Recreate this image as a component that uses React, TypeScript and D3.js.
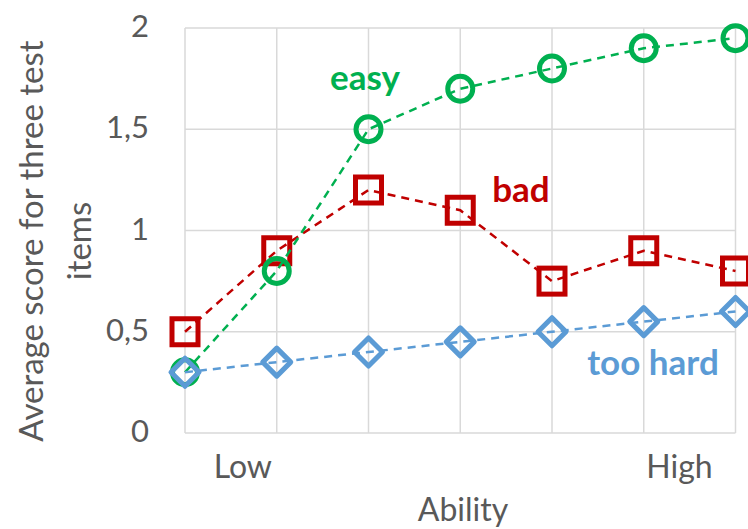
import React from "react";
import * as d3 from "d3";

const categories = [1, 2, 3, 4, 5, 6, 7];
const easyValues = [0.3, 0.8, 1.5, 1.7, 1.8, 1.9, 1.95];
const badValues = [0.5, 0.9, 1.2, 1.1, 0.75, 0.9, 0.8];
const tooHardValues = [0.3, 0.35, 0.4, 0.45, 0.5, 0.55, 0.6];
const yTicks = [0, 0.5, 1, 1.5, 2];
const xTickLabels = [
  { label: "Low", at: 0.63 },
  { label: "High", at: 5.39 },
];

const W = 748;
const H = 529;
const FONT = "Lato, 'Open Sans', sans-serif";
const GREEN = "#00B050";
const RED = "#C00000";
const BLUE = "#5B9BD5";
const TEXT = "#595959";

export default function App() {
  const x = d3.scaleLinear().domain([0, categories.length - 1]).range([185, 735.5]);
  const y = d3.scaleLinear().domain([0, 2]).range([433, 28]);
  const line = d3
    .line<number>()
    .x((_, i) => x(i))
    .y((d) => y(d));

  const fmt = (v: number) => String(v).replace(".", ",");

  const series = [
    { name: "bad", values: badValues, color: RED, shape: "square" },
    { name: "easy", values: easyValues, color: GREEN, shape: "circle" },
    { name: "too hard", values: tooHardValues, color: BLUE, shape: "diamond" },
  ];

  const marker = (shape: string, cx: number, cy: number, color: string, key: number) => {
    const sw = 5;
    if (shape === "circle")
      return <circle key={key} cx={cx} cy={cy} r={12.5} fill="none" stroke={color} strokeWidth={sw} />;
    if (shape === "square")
      return (
        <rect key={key} x={cx - 13} y={cy - 13} width={26} height={26} fill="none" stroke={color} strokeWidth={sw} />
      );
    const r = 14;
    return (
      <path
        key={key}
        d={`M${cx},${cy - r}L${cx + r},${cy}L${cx},${cy + r}L${cx - r},${cy}Z`}
        fill="none"
        stroke={color}
        strokeWidth={sw}
        strokeLinejoin="round"
      />
    );
  };

  return (
    <svg width={W} height={H} style={{ position: "absolute", left: 0, top: 0, background: "#fff" }}>
      {/* grid */}
      {yTicks.map((t) => (
        <line key={"h" + t} x1={x(0)} x2={x(6)} y1={y(t)} y2={y(t)} stroke="#d9d9d9" strokeWidth={1.5} />
      ))}
      {categories.map((_, i) => (
        <line key={"v" + i} x1={x(i)} x2={x(i)} y1={y(0)} y2={y(2)} stroke="#d9d9d9" strokeWidth={1.5} />
      ))}
      {/* y tick labels */}
      {yTicks.map((t) => (
        <text
          key={"yt" + t}
          x={149}
          y={y(t) - 3}
          textAnchor="end"
          dominantBaseline="central"
          fontFamily={FONT}
          fontSize={31}
          fill={TEXT}
        >
          {fmt(t)}
        </text>
      ))}
      {/* x tick labels */}
      {xTickLabels.map((d) => (
        <text key={d.label} x={x(d.at)} y={478} textAnchor="middle" fontFamily={FONT} fontSize={32} fill={TEXT}>
          {d.label}
        </text>
      ))}
      <text x={463} y={521} textAnchor="middle" fontFamily={FONT} fontSize={32} fill={TEXT}>
        Ability
      </text>
      <g transform="translate(30,241) rotate(-90)">
        <text x={0} y={0} textAnchor="middle" dominantBaseline="central" fontFamily={FONT} fontSize={33} fill={TEXT}>
          Average score for three test
        </text>
        <text x={0} y={48} textAnchor="middle" dominantBaseline="central" fontFamily={FONT} fontSize={33} fill={TEXT}>
          items
        </text>
      </g>
      {/* series */}
      {series.map((s) => (
        <g key={s.name}>
          <path d={line(s.values) || ""} fill="none" stroke={s.color} strokeWidth={2.5} strokeDasharray="8,6" />
          {s.values.map((v, i) => marker(s.shape, x(i), y(v), s.color, i))}
        </g>
      ))}
      {/* labels */}
      <text x={365} y={90} textAnchor="middle" fontFamily={FONT} fontWeight="bold" fontSize={35} fill={GREEN}>
        easy
      </text>
      <text x={521} y={202} textAnchor="middle" fontFamily={FONT} fontWeight="bold" fontSize={35} fill={RED}>
        bad
      </text>
      <text x={653} y={375} textAnchor="middle" fontFamily={FONT} fontWeight="bold" fontSize={35} fill={BLUE}>
        too hard
      </text>
    </svg>
  );
}
